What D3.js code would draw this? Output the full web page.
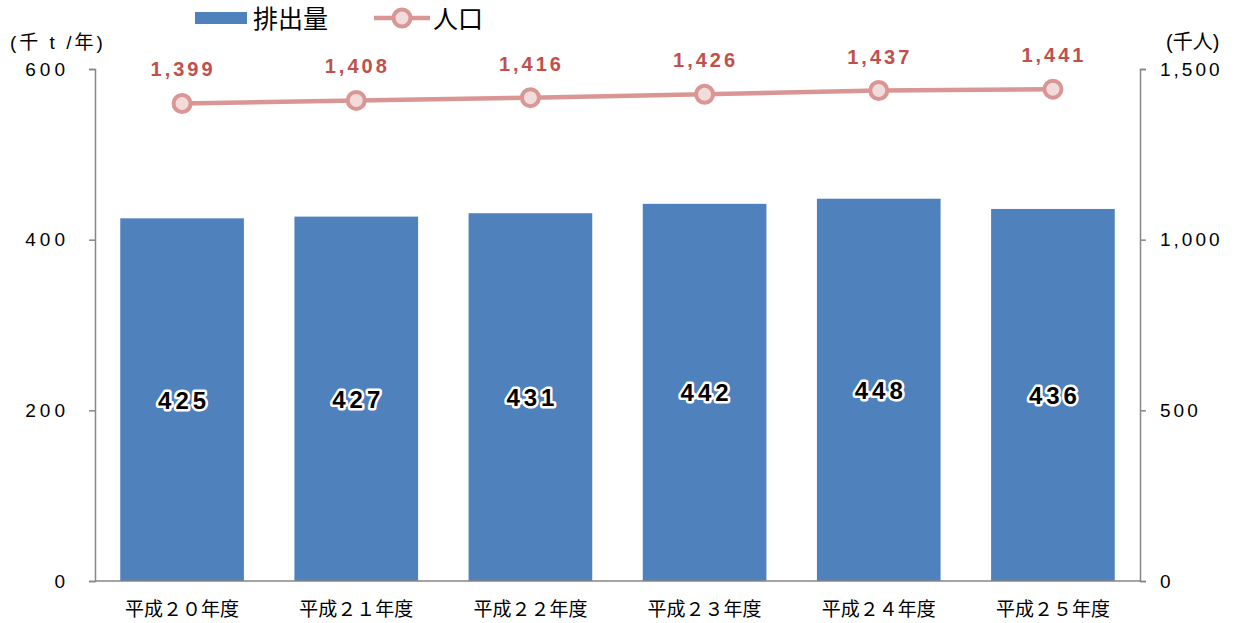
<!DOCTYPE html>
<html>
<head>
<meta charset="utf-8">
<script src="https://cdn.jsdelivr.net/npm/d3@7"></script>
<style>
  body { margin: 0; background: #fff; }
  text { font-family: "Liberation Sans", "Noto Sans CJK JP", sans-serif; }
</style>
</head>
<body>
<div id="app"></div>
<script>
// データ
const categories = ['平成２０年度', '平成２１年度', '平成２２年度', '平成２３年度', '平成２４年度', '平成２５年度'];
const emissions = [425, 427, 431, 442, 448, 436];
const population = [1399, 1408, 1416, 1426, 1437, 1441];
const leftTicks = [0, 200, 400, 600];
const rightTicks = [0, 500, 1000, 1500];

const W = 1235, H = 623;
const margin = { left: 95, right: 95, top: 69, bottom: 42 };
const x0 = margin.left, x1 = W - margin.right, yTop = margin.top, yBot = H - margin.bottom;

const svg = d3.select('#app').append('svg').attr('width', W).attr('height', H);

const x = d3.scaleBand().domain(categories).range([x0, x1]).paddingInner(0.29).paddingOuter(0.145);
const yL = d3.scaleLinear().domain([0, 600]).range([yBot, yTop]);
const yR = d3.scaleLinear().domain([0, 1500]).range([yBot, yTop]);

const axisColor = '#868686';

// 棒グラフ
svg.append('g').selectAll('rect')
  .data(emissions)
  .enter()
  .append('rect')
  .attr('x', (d, i) => x(categories[i]))
  .attr('width', x.bandwidth())
  .attr('y', d => yL(d))
  .attr('height', d => yBot - yL(d))
  .attr('fill', '#4f81bd');

// 軸
const leftAxis = svg.append('g').attr('transform', `translate(${x0},0)`)
  .call(d3.axisLeft(yL).tickValues(leftTicks).tickSize(6).tickPadding(20));
const rightAxis = svg.append('g').attr('transform', `translate(${x1},0)`)
  .call(d3.axisRight(yR).tickValues(rightTicks).tickSize(6).tickPadding(14).tickFormat(d3.format(',')));
[leftAxis, rightAxis].forEach(a => {
  a.select('.domain').attr('stroke', axisColor).attr('stroke-width', 1.5);
  a.selectAll('.tick line').attr('stroke', axisColor).attr('stroke-width', 1.5);
  a.selectAll('.tick text').attr('fill', '#000').attr('font-size', '19px').attr('letter-spacing', '4px');
});
rightAxis.selectAll('.tick text').attr('letter-spacing', '3px');

svg.append('line')
  .attr('x1', x0).attr('x2', x1).attr('y1', yBot).attr('y2', yBot)
  .attr('stroke', axisColor).attr('stroke-width', 1.5);

svg.append('g').selectAll('text')
  .data(categories)
  .enter()
  .append('text')
  .attr('x', d => x(d) + x.bandwidth() / 2)
  .attr('y', yBot + 35)
  .attr('text-anchor', 'middle')
  .attr('font-size', '19px')
  .attr('fill', '#000')
  .text(d => d);

// 棒ラベル (白い縁取り)
svg.append('g').selectAll('text')
  .data(emissions)
  .enter()
  .append('text')
  .attr('x', (d, i) => x(categories[i]) + x.bandwidth() / 2 + 2)
  .attr('y', d => (yL(d) + yBot) / 2 + 9)
  .attr('text-anchor', 'middle')
  .attr('font-size', '24px')
  .attr('font-weight', '700')
  .attr('letter-spacing', '4px')
  .attr('fill', '#000')
  .attr('stroke', '#fff')
  .attr('stroke-width', 5)
  .attr('stroke-linejoin', 'round')
  .attr('paint-order', 'stroke')
  .text(d => d);

// 折れ線
const lineColor = '#d99694';
const cx = (d, i) => x(categories[i]) + x.bandwidth() / 2;
const line = d3.line().x((d, i) => cx(d, i)).y(d => yR(d));
svg.append('path')
  .datum(population)
  .attr('d', line)
  .attr('fill', 'none')
  .attr('stroke', lineColor)
  .attr('stroke-width', 4.5);

svg.append('g').selectAll('circle')
  .data(population)
  .enter()
  .append('circle')
  .attr('cx', cx)
  .attr('cy', d => yR(d))
  .attr('r', 8.5)
  .attr('fill', '#f2dcdb')
  .attr('stroke', lineColor)
  .attr('stroke-width', 4);

svg.append('g').selectAll('text')
  .data(population)
  .enter()
  .append('text')
  .attr('x', (d, i) => cx(d, i) + 1)
  .attr('y', d => yR(d) - 27)
  .attr('text-anchor', 'middle')
  .attr('font-size', '20px')
  .attr('font-weight', '700')
  .attr('letter-spacing', '3px')
  .attr('fill', '#c0504d')
  .text(d3.format(','));

// 単位
svg.append('text').attr('x', 10).attr('y', 49).attr('font-size', '19px').attr('letter-spacing', '3px').attr('fill', '#000').text('(千 t /年)');
svg.append('text').attr('x', 1166).attr('y', 49).attr('font-size', '20px').attr('fill', '#000').text('(千人)');

// 凡例
const legend = svg.append('g');
legend.append('rect').attr('x', 195).attr('y', 12).attr('width', 52).attr('height', 12).attr('fill', '#4f81bd');
legend.append('text').attr('x', 253).attr('y', 28).attr('font-size', '25px').attr('fill', '#000').text('排出量');
legend.append('line').attr('x1', 374).attr('x2', 430).attr('y1', 18).attr('y2', 18)
  .attr('stroke', lineColor).attr('stroke-width', 4.5);
legend.append('circle').attr('cx', 402).attr('cy', 18).attr('r', 8.5)
  .attr('fill', '#f2dcdb').attr('stroke', lineColor).attr('stroke-width', 4);
legend.append('text').attr('x', 433).attr('y', 28).attr('font-size', '25px').attr('fill', '#000').text('人口');
</script>
</body>
</html>
